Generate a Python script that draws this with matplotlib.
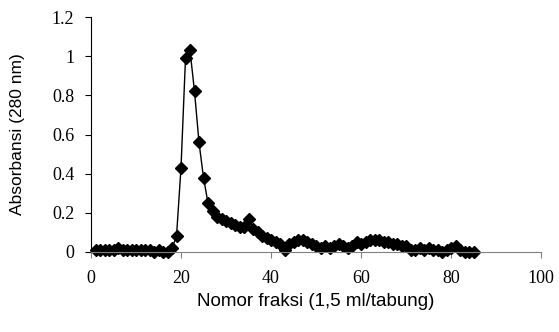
import matplotlib
matplotlib.use("Agg")
import matplotlib.pyplot as plt

fractions = list(range(1, 86))
absorbance = [
    0.01, 0.01, 0.01, 0.01, 0.01, 0.02, 0.01, 0.01, 0.01, 0.01,   # 1-10
    0.01, 0.01, 0.01, 0.00, 0.01, 0.00, 0.00, 0.02, 0.08, 0.43,   # 11-20
    0.99, 1.03, 0.82, 0.56, 0.38, 0.25, 0.21, 0.18, 0.17, 0.16,   # 21-30
    0.15, 0.14, 0.13, 0.13, 0.17, 0.12, 0.10, 0.08, 0.07, 0.06,   # 31-40
    0.05, 0.04, 0.01, 0.04, 0.05, 0.06, 0.06, 0.05, 0.04, 0.03,   # 41-50
    0.02, 0.03, 0.02, 0.03, 0.04, 0.03, 0.02, 0.03, 0.05, 0.04,   # 51-60
    0.05, 0.06, 0.06, 0.06, 0.05, 0.05, 0.04, 0.04, 0.03, 0.03,   # 61-70
    0.01, 0.01, 0.02, 0.01, 0.02, 0.01, 0.01, 0.00, 0.01, 0.02,   # 71-80
    0.03, 0.01, 0.00, 0.00, 0.00,                                 # 81-85
]
xticks = [0, 20, 40, 60, 80, 100]
yticks = [0, 0.2, 0.4, 0.6, 0.8, 1, 1.2]
ytick_labels = ["0", "0.2", "0.4", "0.6", "0.8", "1", "1.2"]

fig = plt.figure(figsize=(5.59, 3.32), dpi=100)
ax = fig.add_axes([91/559, 1 - 252/332, 450/559, 235/332])
ax.plot(fractions, absorbance, color="black", lw=1.0, marker="D", ms=6.5,
        mfc="black", mec="black", clip_on=False)
ax.set_xlim(0, 100)
ax.set_ylim(0, 1.2)
ax.set_xticks(xticks)
ax.set_yticks(yticks)
ax.set_yticklabels(ytick_labels)
for lbl in ax.get_xticklabels() + ax.get_yticklabels():
    lbl.set_fontfamily("Liberation Serif")
    lbl.set_fontsize(13)
ax.spines["top"].set_visible(False)
ax.spines["right"].set_visible(False)
ax.spines["bottom"].set_color("#808080")
ax.spines["left"].set_color("black")
ax.tick_params(axis="x", direction="out", length=4, colors="#808080", labelcolor="black", pad=9)
ax.tick_params(axis="y", direction="out", length=4, color="black", pad=8)
ax.set_xlabel("Nomor fraksi (1,5 ml/tabung)", fontfamily="Liberation Sans", fontsize=13.5, va="center")
ax.set_ylabel("Absorbansi (280 nm)", fontfamily="Liberation Sans", fontsize=12.5, va="center")
ax.xaxis.set_label_coords(0.5, (252 - 301) / 235)
ax.yaxis.set_label_coords((18 - 91) / 450, 0.5)
fig.savefig("out.png", dpi=100)
